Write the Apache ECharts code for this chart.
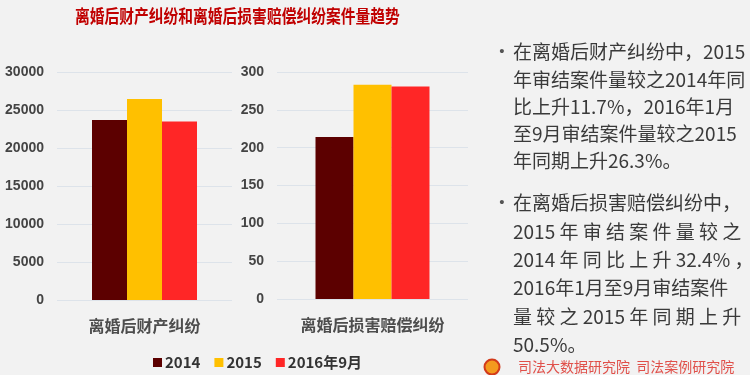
<!DOCTYPE html>
<html>
<head>
<meta charset="utf-8">
<script src="https://cdn.jsdelivr.net/npm/echarts@6/dist/echarts.min.js"></script>
<style>
html, body { margin: 0; padding: 0; background: #f2f2f2; }
#chart { width: 750px; height: 375px; }
</style>
</head>
<body>
<div id="chart"></div>
<script>
// data
const seriesNames = ['2014', '2015', '2016年9月'];
const propertyCategory = ['离婚后财产纠纷'];
const damageCategory = ['离婚后损害赔偿纠纷'];
const propertyCases = [23700, 26450, 23500];
const damageCases = [214, 283, 281];
const propertyTicks = [0, 30000, 5000];  // min, max, interval
const damageTicks = [0, 300, 50];
const colors = ['#5c0000', '#ffc000', '#ff2626'];

const titleText = '离婚后财产纠纷和离婚后损害赔偿纠纷案件量趋势';
const noteLines1 = [
    '在离婚后财产纠纷中，2015',
    '年审结案件量较之2014年同',
    '比上升11.7%，2016年1月',
    '至9月审结案件量较之2015',
    '年同期上升26.3%。'
];
const noteLines2 = [
    '在离婚后损害赔偿纠纷中，',
    '2015 年 审 结 案 件 量 较 之',
    '2014 年 同 比 上 升 32.4% ，',
    '2016年1月至9月审结案件',
    '量 较 之 2015 年 同 期 上 升',
    '50.5%。'
];
const footerText = '司法大数据研究院  司法案例研究院';

const cjk = '"Noto Sans CJK SC", "Noto Sans", sans-serif';
const latin = '"Liberation Sans", Arial, sans-serif';

let chart = echarts.init(document.getElementById('chart'));

function yAxisFor(ticks, gridIndex) {
    return {
        type: 'value',
        gridIndex: gridIndex,
        min: ticks[0],
        max: ticks[1],
        interval: ticks[2],
        axisLine: {show: false},
        axisTick: {show: false},
        axisLabel: {
            color: '#444', fontSize: 14, fontWeight: 'bold', fontFamily: latin, margin: 13,
            formatter: (v) => String(v)
        },
        splitLine: {lineStyle: {color: '#dde3ea', width: 1}}
    };
}

function xAxisFor(cats, gridIndex) {
    return {
        type: 'category',
        gridIndex: gridIndex,
        data: cats,
        axisLine: {show: false},
        axisTick: {show: false},
        axisLabel: {color: '#4d4d4d', fontSize: 16, fontWeight: 'bold', fontFamily: cjk, margin: 18}
    };
}

let series = [];
seriesNames.forEach((name, i) => {
    series.push({
        name: name, type: 'bar', xAxisIndex: 0, yAxisIndex: 0,
        data: [propertyCases[i]], barWidth: 35, barGap: '0%',
        itemStyle: {color: colors[i]}
    });
});
seriesNames.forEach((name, i) => {
    series.push({
        name: name, type: 'bar', xAxisIndex: 1, yAxisIndex: 1,
        data: [damageCases[i]], barWidth: 38, barGap: '0%',
        itemStyle: {color: colors[i]}
    });
});

let graphic = [{
    type: 'text', x: 75, y: 16, scaleX: 0.82,
    style: {text: titleText, font: 'bold 18px ' + cjk, fill: '#c00000', verticalAlign: 'middle'}
}];
const noteFont = '19px ' + cjk;
noteLines1.forEach((line, i) => {
    graphic.push({type: 'text', x: 513, y: 52 + i * 27.3,
        style: {text: line, font: noteFont, fill: '#3a3a3a', verticalAlign: 'middle'}});
});
noteLines2.forEach((line, i) => {
    graphic.push({type: 'text', x: 513, y: 203 + i * 28.4,
        style: {text: line, font: noteFont, fill: '#3a3a3a', verticalAlign: 'middle'}});
});
[52, 203].forEach((y) => {
    graphic.push({type: 'text', x: 502, y: y,
        style: {text: '•', font: '15px ' + latin, fill: '#555', align: 'center', verticalAlign: 'middle'}});
});
// little emblem and footer
graphic.push({type: 'circle', shape: {cx: 492, cy: 367, r: 7.5},
    style: {fill: '#f39a1e', stroke: '#d23a1a', lineWidth: 2}});
graphic.push({type: 'text', x: 518, y: 367,
    style: {text: footerText, font: '14px ' + cjk, fill: '#e0504a', verticalAlign: 'middle'}});

chart.setOption({
    backgroundColor: '#f2f2f2',
    animation: false,
    grid: [
        {left: 57, top: 72, width: 175, height: 228},
        {left: 277, top: 72, width: 191, height: 227}
    ],
    xAxis: [xAxisFor(propertyCategory, 0), xAxisFor(damageCategory, 1)],
    yAxis: [yAxisFor(propertyTicks, 0), yAxisFor(damageTicks, 1)],
    legend: {
        data: seriesNames,
        left: 148,
        top: 350,
        icon: 'rect',
        itemWidth: 9,
        itemHeight: 9,
        itemGap: 14,
        textStyle: {color: '#333', fontSize: 15, fontWeight: 'bold', fontFamily: cjk, padding: [0, 0, 0, -2]}
    },
    graphic: graphic,
    series: series
});
</script>
</body>
</html>
